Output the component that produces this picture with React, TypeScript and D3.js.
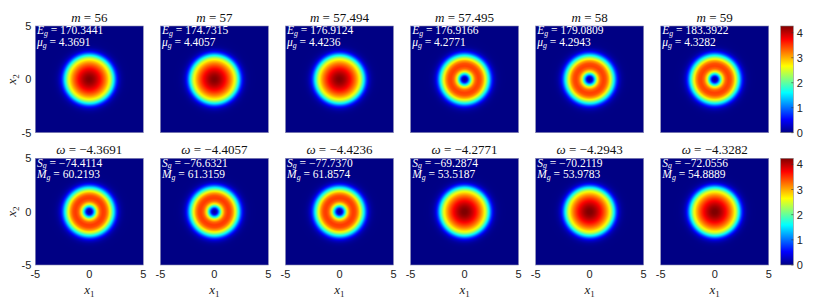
import React, { useMemo } from "react";
import * as d3 from "d3";

// ---- data ----
const mValues = ["56", "57", "57.494", "57.495", "58", "59"];
const egValues = ["170.3441", "174.7315", "176.9124", "176.9166", "179.0809", "183.3922"];
const muValues = ["4.3691", "4.4057", "4.4236", "4.2771", "4.2943", "4.3282"];
const omegaValues = ["\u22124.3691", "\u22124.4057", "\u22124.4236", "\u22124.2771", "\u22124.2943", "\u22124.3282"];
const sgValues = ["\u221274.4114", "\u221276.6321", "\u221277.7370", "\u221269.2874", "\u221270.2119", "\u221272.0556"];
const mgValues = ["60.2193", "61.3159", "61.8574", "53.5187", "53.9783", "54.8889"];
const topShapes = ["peak", "peak", "peak", "ring", "ring", "ring"];
const bottomShapes = ["ring", "ring", "ring", "peak", "peak", "peak"];

const rSamples = [0, 0.25, 0.5, 0.75, 1.0, 1.25, 1.5, 1.75, 2.0, 2.25, 2.5, 2.75, 3.0, 3.25, 3.5, 4.0, 8.0];
const peakProfile = [4.27, 4.22, 4.1, 3.93, 3.72, 3.48, 3.2, 2.85, 2.38, 1.6, 0.78, 0.27, 0.09, 0.03, 0.01, 0, 0];
const ringProfile = [0, 0.4, 1.55, 2.75, 3.3, 3.48, 3.4, 3.05, 2.4, 1.6, 0.78, 0.27, 0.09, 0.03, 0.01, 0, 0];

const colorbarTicks = [0, 1, 2, 3, 4];
const topMax = 4.27;
const bottomMax = 4.24;
const axisTicks = [-5, 0, 5];

// ---- layout ----
const W = 822;
const H = 300;
const left0 = 35.3;
const step = 125.08;
const pw = 108;
const ph = 106.7;
const rowTops = [26, 158.3];
const cbX = 780.7;
const cbW = 12.6;

const jetStops = [0, 0.125, 0.375, 0.625, 0.875, 1];
const jetColors = ["#000084", "#0000ff", "#00ffff", "#ffff00", "#ff0000", "#800000"];
const jet = d3.scaleLinear<string>().domain(jetStops).range(jetColors).interpolate(d3.interpolateRgb).clamp(true);

function makeImage(profile: number[], vmax: number): string {
  const w = 216, h = 214;
  const canvas = document.createElement("canvas");
  canvas.width = w;
  canvas.height = h;
  const ctx = canvas.getContext("2d");
  if (!ctx) return "";
  const img = ctx.createImageData(w, h);
  const fx = d3.scaleLinear().domain([0, w]).range([-5, 5]);
  const fy = d3.scaleLinear().domain([0, h]).range([5, -5]);
  const prof = d3.scaleLinear().domain(rSamples).range(profile).clamp(true);
  for (let j = 0; j < h; j++) {
    for (let i = 0; i < w; i++) {
      const x = fx(i + 0.5), y = fy(j + 0.5);
      const v = prof(Math.sqrt(x * x + y * y));
      const c = d3.rgb(jet(v / vmax));
      const k = (j * w + i) * 4;
      img.data[k] = c.r;
      img.data[k + 1] = c.g;
      img.data[k + 2] = c.b;
      img.data[k + 3] = 255;
    }
  }
  ctx.putImageData(img, 0, 0);
  return canvas.toDataURL();
}

const serif = "'Liberation Serif', 'DejaVu Serif', serif";
const sans = "'Liberation Sans', Arial, sans-serif";

function Sym({ x, y, base, sub, value, fill, size }: { x: number; y: number; base: string; sub: string; value: string; fill: string; size: number }) {
  return (
    <text x={x} y={y} fontFamily={serif} fontSize={size} fill={fill}>
      <tspan fontStyle="italic">{base}</tspan>
      <tspan fontStyle="italic" fontSize={size * 0.68} dy={1.8}>{sub}</tspan>
      <tspan dy={-1.8}>{" = " + value}</tspan>
    </text>
  );
}

export default function App() {
  const images = useMemo(
    () => ({
      peakTop: makeImage(peakProfile, topMax),
      ringTop: makeImage(ringProfile, topMax),
      peakBottom: makeImage(peakProfile, bottomMax),
      ringBottom: makeImage(ringProfile, bottomMax),
    }),
    []
  );

  const rows = [0, 1];
  const cols = d3.range(6);

  return (
    <svg width={W} height={H} style={{ position: "absolute", left: 0, top: 0, background: "#fff" }}>
      <defs>
        <linearGradient id="jetGrad" x1="0" y1="1" x2="0" y2="0">
          {jetStops.map((s, i) => (
            <stop key={i} offset={s} stopColor={jetColors[i]} />
          ))}
        </linearGradient>
      </defs>
      {rows.map((row) => {
        const top = rowTops[row];
        const yScale = d3.scaleLinear().domain([-5, 5]).range([top + ph, top]);
        const vmax = row === 0 ? topMax : bottomMax;
        const cbScale = d3.scaleLinear().domain([0, vmax]).range([top + ph, top]);
        return (
          <g key={row}>
            {cols.map((c) => {
              const x0 = left0 + c * step;
              const xScale = d3.scaleLinear().domain([-5, 5]).range([x0, x0 + pw]);
              const shape = row === 0 ? topShapes[c] : bottomShapes[c];
              const href =
                row === 0
                  ? shape === "peak" ? images.peakTop : images.ringTop
                  : shape === "peak" ? images.peakBottom : images.ringBottom;
              const cx = (xScale(-5) + xScale(5)) / 2;
              return (
                <g key={c}>
                  <image href={href} x={xScale(-5)} y={yScale(5)} width={xScale(5) - xScale(-5)} height={yScale(-5) - yScale(5)} preserveAspectRatio="none" />
                  <rect x={xScale(-5)} y={yScale(5)} width={pw} height={ph} fill="none" stroke="#8c8cb4" strokeWidth={0.6} />
                  {row === 0 ? (
                    <text x={cx} y={top - 4.5} textAnchor="middle" fontFamily={serif} fontSize={13} fill="#111">
                      <tspan fontStyle="italic">m</tspan>
                      <tspan>{" = " + mValues[c]}</tspan>
                    </text>
                  ) : (
                    <text x={cx} y={top - 4.3} textAnchor="middle" fontFamily={serif} fontSize={13} fill="#111">
                      <tspan fontStyle="italic">{"\u03c9"}</tspan>
                      <tspan>{" = " + omegaValues[c]}</tspan>
                    </text>
                  )}
                  {row === 0 ? (
                    <>
                      <Sym x={x0 + 1.6} y={top + 8.2} base="E" sub="g" value={egValues[c]} fill="#fff" size={11.5} />
                      <Sym x={x0 + 1.6} y={top + 19.8} base={"\u03bc"} sub="g" value={muValues[c]} fill="#fff" size={11.5} />
                    </>
                  ) : (
                    <>
                      <Sym x={x0 + 1.6} y={top + 8.2} base="S" sub="g" value={sgValues[c]} fill="#fff" size={11.5} />
                      <Sym x={x0 + 1.6} y={top + 19.8} base="M" sub="g" value={mgValues[c]} fill="#fff" size={11.5} />
                    </>
                  )}
                  {c === 0 &&
                    axisTicks.map((t) => (
                      <text key={t} x={x0 - 4} y={yScale(t) + 4} textAnchor="end" fontFamily={sans} fontSize={11} fill="#222">
                        {t === -5 ? "-5" : String(t)}
                      </text>
                    ))}
                  {c === 0 && (
                    <text transform={`translate(16,${yScale(0)}) rotate(-90)`} textAnchor="middle" fontFamily={serif} fontSize={13} fill="#222">
                      <tspan fontStyle="italic">x</tspan>
                      <tspan fontSize={9} dy={2.5}>2</tspan>
                    </text>
                  )}
                  {row === 1 &&
                    axisTicks.map((t) => (
                      <text key={t} x={xScale(t)} y={top + ph + 13} textAnchor="middle" fontFamily={sans} fontSize={11} fill="#222">
                        {t === -5 ? "-5" : String(t)}
                      </text>
                    ))}
                  {row === 1 && (
                    <text x={cx} y={top + ph + 29} textAnchor="middle" fontFamily={serif} fontSize={13} fill="#222">
                      <tspan fontStyle="italic">x</tspan>
                      <tspan fontSize={9} dy={2.5}>1</tspan>
                    </text>
                  )}
                </g>
              );
            })}
            <rect x={cbX} y={top} width={cbW} height={ph} fill="url(#jetGrad)" stroke="#888" strokeWidth={0.6} />
            {colorbarTicks.map((t) => (
              <g key={t}>
                <line x1={cbX + cbW - 2} x2={cbX + cbW} y1={cbScale(t)} y2={cbScale(t)} stroke="#333" strokeWidth={0.6} />
                <text x={cbX + cbW + 3.5} y={cbScale(t) + 4} fontFamily={sans} fontSize={11} fill="#222">
                  {t}
                </text>
              </g>
            ))}
          </g>
        );
      })}
    </svg>
  );
}
